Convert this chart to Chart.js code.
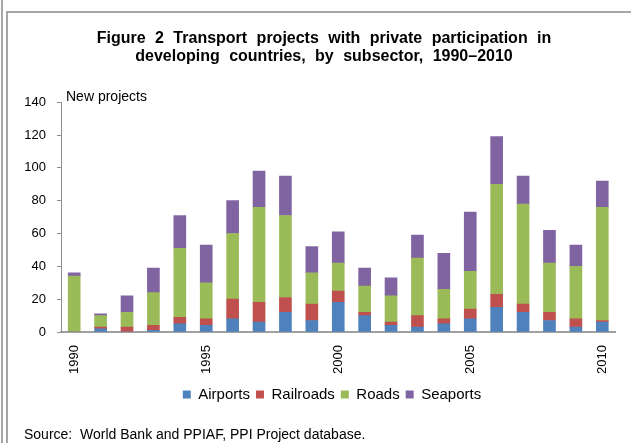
<!DOCTYPE html>
<html>
<head>
<meta charset="utf-8">
<script src="https://cdn.jsdelivr.net/npm/chart.js@4.4.0/dist/chart.umd.min.js"></script>
<style>
  body { margin: 0; background: #fff; }
  #wrap { position: relative; width: 631px; height: 443px; overflow: hidden; }
  #outer { position: absolute; left: 1px; top: 0; width: 0; height: 443px; border-left: 2px solid #a6a6a6; }
  #frame { position: absolute; left: 6px; top: 11px; width: 640px; height: 450px; border-left: 2px solid #a6a6a6; border-top: 2px solid #a6a6a6; }
  #source { position: absolute; left: 24px; top: 426px; font: 14px 'Liberation Sans', Arial, sans-serif; color: #000; white-space: pre; }
  canvas { position: absolute; left: 0; top: 0; }
</style>
</head>
<body>
<div id="wrap">
  <div id="outer"></div>
  <div id="frame"></div>
  <canvas id="chart" width="631" height="443"></canvas>
  <div id="source">Source:  World Bank and PPIAF, PPI Project database.</div>
</div>
<script>
const years = ['1990','1991','1992','1993','1994','1995','1996','1997','1998','1999','2000',
  '2001','2002','2003','2004','2005','2006','2007','2008','2009','2010'];
const shownYears = ['1990','1995','2000','2005','2010'];

const airports  = [0, 2, 0, 1, 5, 4, 8, 6, 12, 7, 18, 10, 4, 3, 5, 8, 15, 12, 7, 3, 6];
const railroads = [0, 1, 3, 3, 4, 4, 12, 12, 9, 10, 7, 2, 2, 7, 3, 6, 8, 5, 5, 5, 1];
const roads     = [34, 7, 9, 20, 42, 22, 40, 58, 50, 19, 17, 16, 16, 35, 18, 23, 67, 61, 30, 32, 69];
const seaports  = [2, 1, 10, 15, 20, 23, 20, 22, 24, 16, 19, 11, 11, 14, 22, 36, 29, 17, 20, 13, 16];

const font = "'Liberation Sans', Arial, sans-serif";

// wider word gaps in the title like the original, plain text afterwards
const textTweaks = {
  id: 'textTweaks',
  afterLayout(chart) {
    // legend sits a bit right of centre in the original
    chart.legend.left += 8;
    chart.legend.right += 8;
  },
  beforeDraw(chart) {
    chart.ctx.wordSpacing = '5px';
  },
  afterDraw(chart) {
    const ctx = chart.ctx;
    ctx.wordSpacing = '0px';
    ctx.save();
    ctx.font = '14px ' + font;
    ctx.fillStyle = '#000';
    ctx.textBaseline = 'alphabetic';
    ctx.fillText('New projects', chart.chartArea.left + 5, chart.chartArea.top - 1);
    ctx.restore();
  }
};

new Chart(document.getElementById('chart'), {
  type: 'bar',
  data: {
    labels: years,
    datasets: [
      { label: 'Airports', data: airports, backgroundColor: '#4F81BD' },
      { label: 'Railroads', data: railroads, backgroundColor: '#C0504D' },
      { label: 'Roads', data: roads, backgroundColor: '#9BBB59' },
      { label: 'Seaports', data: seaports, backgroundColor: '#8064A2' }
    ]
  },
  options: {
    responsive: false,
    animation: false,
    layout: { padding: { left: 22, right: 5, top: 0, bottom: 31 } },
    datasets: { bar: { barThickness: 12 } },
    plugins: {
      title: {
        display: true,
        text: ['Figure 2 Transport projects with private participation in',
               'developing countries, by subsector, 1990\u20132010'],
        color: '#000',
        font: { family: font, size: 16, weight: 'bold', lineHeight: 1.1 },
        padding: { top: 30, bottom: 37 }
      },
      legend: {
        position: 'bottom',
        labels: {
          color: '#000',
          font: { family: font, size: 15 },
          boxWidth: 8,
          boxHeight: 8,
          padding: 6
        }
      },
      tooltip: { enabled: false }
    },
    scales: {
      x: {
        stacked: true,
        afterFit: scale => { scale.height = 49; },
        grid: { display: true, drawOnChartArea: false, drawTicks: false },
        border: { display: true, color: '#a0a0a0', width: 2 },
        ticks: {
          autoSkip: false,
          maxRotation: 90,
          minRotation: 90,
          padding: 13,
          color: '#000',
          font: { family: font, size: 13 },
          callback: function (value) {
            const lab = this.getLabelForValue(value);
            return shownYears.includes(lab) ? lab : '';
          }
        }
      },
      y: {
        stacked: true,
        min: 0,
        max: 140,
        afterFit: scale => { scale.width = 39; },
        grid: { display: true, drawOnChartArea: false, drawTicks: true, tickLength: 4, color: '#909090' },
        border: { display: true, color: '#909090', width: 1 },
        ticks: {
          stepSize: 20,
          padding: 11,
          color: '#000',
          font: { family: font, size: 13 }
        }
      }
    }
  },
  plugins: [textTweaks]
});
</script>
</body>
</html>
